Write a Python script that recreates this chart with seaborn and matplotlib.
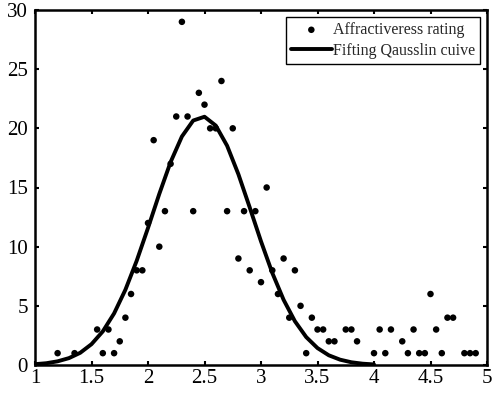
import matplotlib
matplotlib.use('Agg')
import matplotlib.pyplot as plt
import pandas as pd
import seaborn as sns

# scatter data
rating_x = [1.2, 1.35, 1.55, 1.6, 1.65, 1.7, 1.75, 1.8, 1.85, 1.9, 1.95,
            2.0, 2.05, 2.1, 2.15, 2.2, 2.25, 2.3, 2.35, 2.4, 2.45, 2.5,
            2.55, 2.6, 2.65, 2.7, 2.75, 2.8, 2.85, 2.9, 2.95, 3.0, 3.05,
            3.1, 3.15, 3.2, 3.25, 3.3, 3.35, 3.4, 3.45, 3.5, 3.55, 3.6,
            3.65, 3.75, 3.8, 3.85, 4.0, 4.05, 4.1, 4.15, 4.25, 4.3, 4.35,
            4.4, 4.45, 4.5, 4.55, 4.6, 4.65, 4.7, 4.8, 4.85, 4.9]
rating_y = [1, 1, 3, 1, 3, 1, 2, 4, 6, 8, 8,
            12, 19, 10, 13, 17, 21, 29, 21, 13, 23, 22,
            20, 20, 24, 13, 20, 9, 13, 8, 13, 7, 15,
            8, 6, 9, 4, 8, 5, 1, 4, 3, 3, 2,
            2, 3, 3, 2, 1, 3, 1, 3, 2, 1, 3,
            1, 1, 6, 3, 1, 4, 4, 1, 1, 1]

# fitted gaussian curve
curve_x = [1.0, 1.1, 1.2, 1.3, 1.4, 1.5, 1.6, 1.7, 1.8, 1.9, 2.0, 2.1,
           2.2, 2.3, 2.4, 2.5, 2.6, 2.7, 2.8, 2.9, 3.0, 3.1, 3.2, 3.3,
           3.4, 3.5, 3.6, 3.7, 3.8, 3.9, 4.0]
curve_y = [0.07, 0.15, 0.31, 0.58, 1.03, 1.76, 2.84, 4.36, 6.36, 8.81,
           11.58, 14.46, 17.15, 19.31, 20.66, 20.98, 20.23, 18.53, 16.12,
           13.32, 10.45, 7.78, 5.51, 3.70, 2.36, 1.43, 0.82, 0.45, 0.23,
           0.11, 0.05]

x_ticks = [1, 1.5, 2, 2.5, 3, 3.5, 4, 4.5, 5]
x_labels = ['1', '1.5', '2', '2.5', '3', '3.5', '4', '4.5', '5']
y_ticks = [0, 5, 10, 15, 20, 25, 30]

sns.set_style('ticks')
plt.rcParams['font.family'] = ['Liberation Serif', 'DejaVu Serif']

points = pd.DataFrame({'x': rating_x, 'y': rating_y})
curve = pd.DataFrame({'x': curve_x, 'y': curve_y})

fig = plt.figure(figsize=(4.93, 3.93), dpi=100)
ax = fig.add_axes([35 / 493, 28 / 393, 452 / 493, 355 / 393])

sns.scatterplot(data=points, x='x', y='y', color='black', s=22,
                edgecolor='none', label='Affractiveress rating', ax=ax)
sns.lineplot(data=curve, x='x', y='y', color='black', linewidth=2.8,
             label='Fifting Qausslin cuive', ax=ax)

ax.set_xlim(1, 5)
ax.set_ylim(0, 30)
ax.set_xticks(x_ticks)
ax.set_xticklabels(x_labels)
ax.set_yticks(y_ticks)
ax.set_xlabel('')
ax.set_ylabel('')
ax.tick_params(direction='in', length=3, width=1.5, labelsize=15,
               top=True, right=True, colors='black')
ax.tick_params(axis='y', pad=5)
ax.tick_params(axis='x', pad=3)
for side in ax.spines.values():
    side.set_visible(True)
    side.set_linewidth(1.8)
    side.set_color('black')

leg = ax.legend(loc='upper right', fontsize=11.5, frameon=True, fancybox=False,
                edgecolor='black', framealpha=1, borderpad=0.3,
                handlelength=2.6, handletextpad=0.05, labelspacing=0.3,
                borderaxespad=0.45)
leg.get_frame().set_linewidth(1.0)

fig.savefig('out.png', dpi=100)
